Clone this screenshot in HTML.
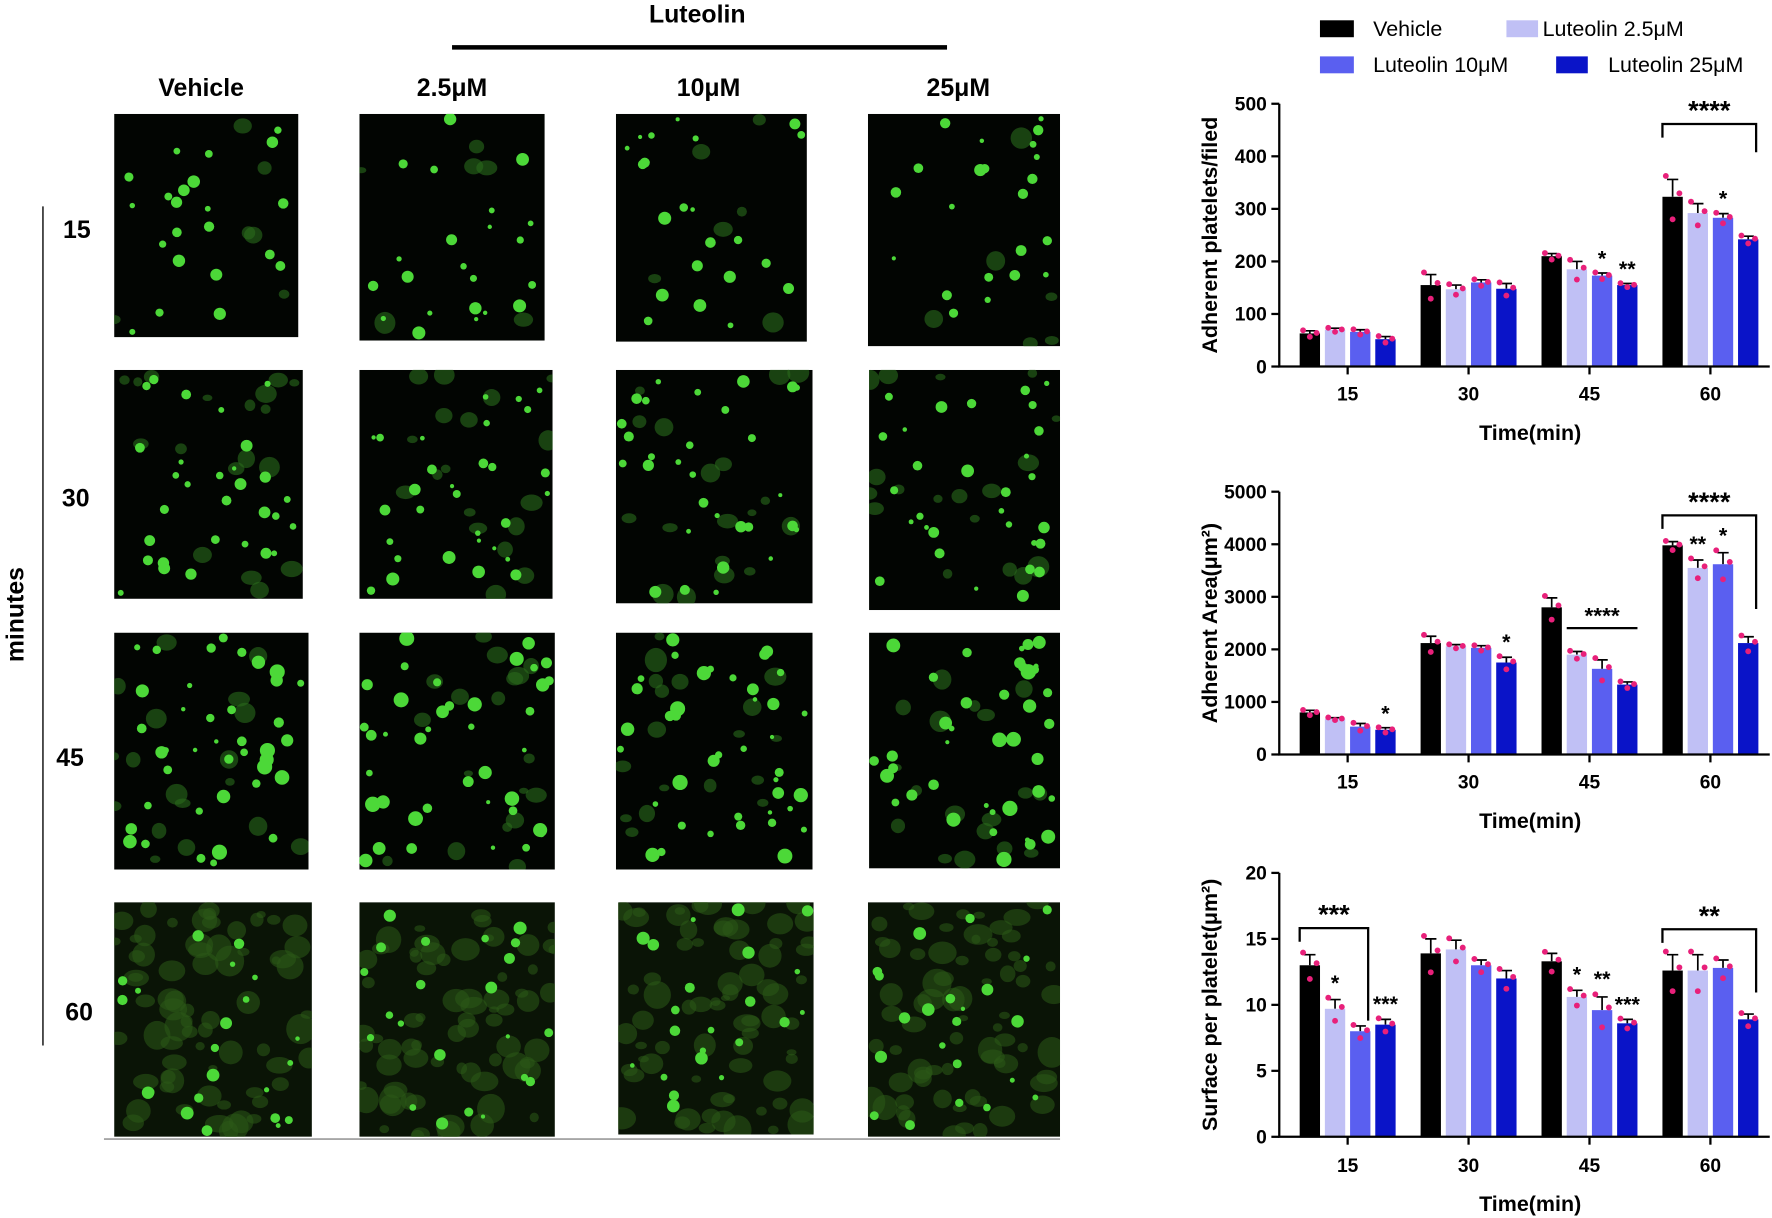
<!DOCTYPE html>
<html><head><meta charset="utf-8"><style>
html,body{margin:0;padding:0;background:#fff}
svg{display:block}
text{font-family:"Liberation Sans",Arial,sans-serif}
</style></head><body>
<svg id="root" width="1772" height="1218" viewBox="0 0 1568 1080" preserveAspectRatio="none" xmlns="http://www.w3.org/2000/svg">
<defs id="defs"></defs>
<rect width="1568" height="1080" fill="#fff"/>
<text x="617" y="20" text-anchor="middle" font-size="22" font-weight="bold">Luteolin</text>
<line x1="400" y1="42" x2="838" y2="42" stroke="#000" stroke-width="4"/>
<g font-size="22" font-weight="bold" text-anchor="middle">
<text x="178" y="85">Vehicle</text>
<text x="400" y="85">2.5μM</text>
<text x="627" y="85">10μM</text>
<text x="848" y="85">25μM</text>
<text x="68" y="211">15</text>
<text x="67" y="449">30</text>
<text x="62" y="679">45</text>
<text x="70" y="905">60</text>
</g>
<line x1="38" y1="183" x2="38" y2="927" stroke="#333" stroke-width="1.5"/>
<text transform="translate(21,545) rotate(-90)" text-anchor="middle" font-size="22" font-weight="bold">minutes</text>
<line x1="92" y1="1010" x2="938" y2="1010" stroke="#999" stroke-width="1.5"/>
<g id="micro"></g>
<g id="legend" font-size="19">
<rect x="1168" y="18" width="30" height="15" fill="#000"/>
<text x="1215" y="32">Vehicle</text>
<rect x="1333" y="18" width="28" height="15" fill="#c0c0f5"/>
<text x="1365" y="32">Luteolin 2.5μM</text>
<rect x="1168" y="50" width="30" height="15" fill="#5a5ff0"/>
<text x="1215" y="64">Luteolin 10μM</text>
<rect x="1377" y="50" width="28" height="15" fill="#0a14c8"/>
<text x="1423" y="64">Luteolin 25μM</text>
</g>
<g id="charts"></g>
</svg>
<script>
const NS="http://www.w3.org/2000/svg";
function mk(tag,attrs,parent){const e=document.createElementNS(NS,tag);for(const k in attrs)e.setAttribute(k,attrs[k]);parent.appendChild(e);return e;}
// ---------- microscopy panels (decorative) ----------
const panels=[[101,101,264,299],[318,101,482,302],[545,101,714,303],[768,101,938,307],
[101,328,268,531],[318,328,489,531],[545,328,719,535],[769,328,938,541],
[101,561,273,771],[318,561,491,771],[545,561,719,771],[769,561,938,770],
[101,800,276,1008],[318,800,491,1008],[547,800,720,1006],[768,800,938,1008]];
let seed=7;function rnd(){seed=(seed*16807)%2147483647;return seed/2147483647;}
const micro=document.getElementById('micro');
const defs=document.getElementById('defs');
panels.forEach((p,i)=>{
  const row=Math.floor(i/4);
  const w=p[2]-p[0],h=p[3]-p[1];
  const cp=mk('clipPath',{id:'cp'+i},defs);
  mk('rect',{x:p[0],y:p[1],width:w,height:h},cp);
  const g=mk('g',{'clip-path':'url(#cp'+i+')'},micro);
  
  
  mk('rect',{x:p[0],y:p[1],width:w,height:h,fill:row==3?'#0a1406':'#020502'},g);
  const nSpread=[6,18,18,70][row], nDot=[22,30,40,22][row];
  for(let k=0;k<nSpread;k++){
    const cx=p[0]+rnd()*w,cy=p[1]+rnd()*h,r=4+rnd()*(row==3?9:6);
    mk('ellipse',{cx:cx,cy:cy,rx:r,ry:r*(0.6+rnd()*0.5),fill:row==3?'#2c5a18':'#2a6a1c',opacity:row==3?0.55:0.6},g);
  }
  for(let k=0;k<nDot;k++){
    const cx=p[0]+4+rnd()*(w-8),cy=p[1]+4+rnd()*(h-8),r=1.8+rnd()*(row==2?5:4);
    mk('circle',{cx:cx,cy:cy,r:r,fill:'#4cd838'},g);
  }
});
// ---------- chart data ----------
const categories=["15","30","45","60"];
const seriesNames=["Vehicle","Luteolin 2.5μM","Luteolin 10μM","Luteolin 25μM"];
const colors=["#000000","#c0c0f5","#5a5ff0","#0a14c8"];
// chart 1: adherent platelets/filed
const c1Vehicle=[63,155,210,323], c1L25=[70,147,185,292], c1L10=[66,160,173,283], c1L250=[52,148,155,242];
const c1Err=[[5,20,5,33],[3,8,15,18],[4,5,5,8],[5,10,3,6]];
const c1Ticks=[0,100,200,300,400,500];
// chart 2: adherent area
const c2Vehicle=[800,2120,2800,3980], c2L25=[680,2060,1900,3550], c2L10=[530,2030,1630,3620], c2L250=[470,1750,1330,2120];
const c2Err=[[40,130,180,70],[20,30,60,150],[60,40,170,220],[40,100,50,120]];
const c2Ticks=[0,1000,2000,3000,4000,5000];
// chart 3: surface per platelet
const c3Vehicle=[13,13.9,13.3,12.6], c3L25=[9.7,14.2,10.6,12.6], c3L10=[8,13,9.6,12.8], c3L250=[8.5,12,8.6,8.9];
const c3Err=[[0.8,1.1,0.6,1.2],[0.7,0.7,0.5,1.2],[0.4,0.4,1.0,0.6],[0.4,0.6,0.3,0.4]];
const c3Ticks=[0,5,10,15,20];
const dotSpread=[-0.09,0.02,0.07];
// brackets: [groupFrom, seriesFrom, groupTo, seriesTo, yPx, label, dropYPx]
const charts=[
 {name:"platelets",vals:[c1Vehicle,c1L25,c1L10,c1L250],err:c1Err,ticks:c1Ticks,max:500,y0:325,y1:92,title:"Adherent platelets/filed",tickY:355,xtY:390,
  stars:[[2,2,"*"],[2,3,"**"],[3,2,"*"]],brackets:[[3,0,3,3,110,"****",135]],lines:[]},
 {name:"area",vals:[c2Vehicle,c2L25,c2L10,c2L250],err:c2Err,ticks:c2Ticks,max:5000,y0:669,y1:436,title:"Adherent  Area(μm²)",tickY:699,xtY:734,
  stars:[[0,3,"*"],[1,3,"*"],[3,1,"**"],[3,2,"*"]],brackets:[[3,0,3,3,457,"****",540]],lines:[[2,1,3,557,"****"]]},
 {name:"surface",vals:[c3Vehicle,c3L25,c3L10,c3L250],err:c3Err,ticks:c3Ticks,max:20,y0:1008,y1:774,title:"Surface per platelet(μm²)",tickY:1039,xtY:1074,
  stars:[[0,1,"*"],[0,3,"***"],[2,1,"*"],[2,2,"**"],[2,3,"***"]],brackets:[[0,0,0,2,823,"***",905],[3,0,3,3,824,"**",880]],lines:[]}
];
const root=document.getElementById('charts');
const xAxisL=1132,xAxisR=1566,groupStart=1192.5,groupStep=107,barStep=22.3,barW=18;
function xBar(ci,si){return groupStart+ci*groupStep+(si-1.5)*barStep;}
charts.forEach(c=>{
  const g=mk('g',{},root);
  
  
  const y=v=>c.y0-(v/c.max)*(c.y0-c.y1);
  c.vals.forEach((arr,si)=>{arr.forEach((v,ci)=>{
    const x=xBar(ci,si);
    const e=c.err[si][ci];
    const eb=mk('path',{d:`M${x} ${y(v)}V${y(v+e)}M${x-5} ${y(v+e)}H${x+5}`,stroke:'#000','stroke-width':1.5,fill:'none'},g);
    
    
    const r=mk('rect',{x:x-barW/2,y:y(v),width:barW,height:c.y0-y(v),fill:colors[si]},g);
    
    
    dotSpread.forEach((d,k)=>{
      const dv=v+(k==0?e*1.2:k==1?-e*1.3:e*0.2);
      const dt=mk('circle',{cx:x+(k-1)*6,cy:y(dv),r:2.6,fill:'#e8207a'},g);
      
      
    });
  });});
  const ax=mk('path',{d:`M${xAxisL} ${c.y1}V${c.y0}H${xAxisR}`,stroke:'#000','stroke-width':2,fill:'none'},g);
  
  
  c.ticks.forEach(t=>{
    mk('line',{x1:xAxisL-7,x2:xAxisL,y1:y(t),y2:y(t),stroke:'#000','stroke-width':2},g);
    const tt=mk('text',{x:xAxisL-11,y:y(t)+6,'text-anchor':'end','font-size':17,'font-weight':'bold'},g);
    tt.textContent=t;
    
    
  });
  categories.forEach((cat,ci)=>{
    const cx=groupStart+ci*groupStep;
    mk('line',{x1:cx,x2:cx,y1:c.y0,y2:c.y0+7,stroke:'#000','stroke-width':2},g);
    const tt=mk('text',{x:cx,y:c.tickY,'text-anchor':'middle','font-size':17,'font-weight':'bold'},g);
    tt.textContent=cat;
    
    
  });
  const xt=mk('text',{x:1354,y:c.xtY,'text-anchor':'middle','font-size':19,'font-weight':'bold'},g);
  xt.textContent="Time(min)";
  
  
  const yt=mk('text',{transform:`translate(1077,${(c.y0+c.y1)/2}) rotate(-90)`,'text-anchor':'middle','font-size':19,'font-weight':'bold'},g);
  yt.textContent=c.title;
  
  
  c.stars.forEach(s=>{
    const ci=s[0],si=s[1];const v=c.vals[si][ci]+c.err[si][ci]*1.3;
    const st=mk('text',{x:xBar(ci,si),y:y(v)-6,'text-anchor':'middle','font-size':19,'font-weight':'bold'},g);
    st.textContent=s[2];
    
    
  });
  c.brackets.forEach(b=>{
    const x1=xBar(b[0],b[1])-barW/2,x2=xBar(b[2],b[3])+barW/2-2;
    const by=b[4];const drop=b[6];
    const bp=mk('path',{d:`M${x1} ${by+12}V${by}H${x2}V${drop}`,stroke:'#000','stroke-width':2,fill:'none'},g);
    
    
    const bt=mk('text',{x:(x1+x2)/2,y:by-4,'text-anchor':'middle','font-size':24,'font-weight':'bold'},g);
    bt.textContent=b[5];
    
    
  });
  c.lines.forEach(l=>{
    const x1=xBar(l[0],l[1])-barW/2,x2=xBar(l[0],l[2])+barW/2;
    mk('line',{x1:x1,x2:x2,y1:l[3],y2:l[3],stroke:'#000','stroke-width':2},g);
    const lt=mk('text',{x:(x1+x2)/2,y:l[3]-4,'text-anchor':'middle','font-size':20,'font-weight':'bold'},g);
    lt.textContent=l[4];
    
    
  });
});
</script>
</body></html>
